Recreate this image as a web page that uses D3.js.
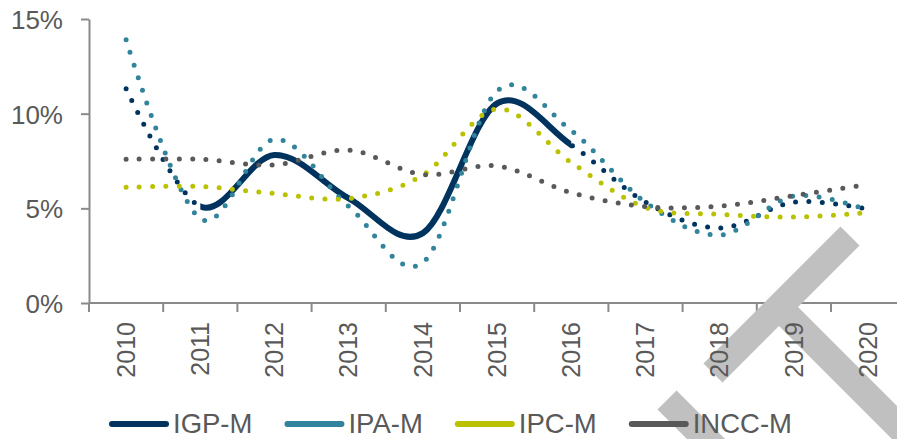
<!DOCTYPE html>
<html>
<head>
<meta charset="utf-8">
<script src="https://cdn.jsdelivr.net/npm/d3@7"></script>
<style>
  html, body { margin: 0; padding: 0; background: #ffffff; }
  svg { display: block; font-family: "Liberation Sans", Arial, sans-serif; }
</style>
</head>
<body>
<svg id="chart" width="897" height="439"></svg>
<script>
// Annual inflation indices (%), 2010-2020
const years = ["2010", "2011", "2012", "2013", "2014", "2015", "2016", "2017", "2018", "2019", "2020"];
const igpM  = [11.32, 5.10, 7.82, 5.53, 3.69, 10.54, 8.35, 5.33, 3.96, 5.33, 4.95];
const ipaM  = [13.90, 4.45, 8.65, 5.10, 2.13, 11.20, 9.10, 5.32, 3.59, 5.65, 4.90];
const ipcM  = [6.11, 6.15, 5.78, 5.52, 6.76, 10.25, 7.42, 5.05, 4.69, 4.54, 4.78];
const inccM = [7.59, 7.59, 7.29, 8.08, 6.78, 7.24, 5.83, 5.09, 5.12, 5.67, 6.27];
const seriesNames = ["IGP-M", "IPA-M", "IPC-M", "INCC-M"];
const yTicks = [0, 5, 10, 15];
// IGP-M is drawn solid over this span of years, dotted elsewhere
const solidSpan = ["2011", "2016"];

const colors = {
  "IGP-M": "#00345f",
  "IPA-M": "#31849b",
  "IPC-M": "#bac200",
  "INCC-M": "#58595b"
};
const textColor = "#595959";
const axisColor = "#8a8a8a";

const svg = d3.select("#chart");

const x = d3.scaleBand().domain(years).range([89, 89 + 74.2 * years.length]).padding(0);
const y = d3.scaleLinear().domain([0, 15]).range([303, 19]);
const cx = d => x(d) + x.bandwidth() / 2;

const series = [
  { name: "IGP-M", values: igpM },
  { name: "IPA-M", values: ipaM },
  { name: "IPC-M", values: ipcM },
  { name: "INCC-M", values: inccM }
];

// ---- Axis lines and ticks ----
const yAxis = d3.axisLeft(y)
  .tickValues(yTicks)
  .tickFormat(d => d + "%")
  .tickSize(8)
  .tickSizeOuter(0)
  .tickPadding(18);

const gy = svg.append("g").attr("transform", "translate(89,0)").call(yAxis);
gy.select(".domain").attr("stroke", axisColor).attr("stroke-width", 2);
gy.selectAll(".tick line").attr("stroke", axisColor).attr("stroke-width", 2);
gy.selectAll(".tick text")
  .attr("fill", textColor)
  .style("font-size", "26px")
  .attr("dy", "0.36em");

const gx = svg.append("g");
gx.append("line")
  .attr("x1", x.range()[0]).attr("x2", x.range()[1])
  .attr("y1", y(0)).attr("y2", y(0))
  .attr("stroke", axisColor).attr("stroke-width", 2);
const boundaries = years.map(d => x(d)).concat([x.range()[1]]);
gx.selectAll("line.tick")
  .data(boundaries)
  .join("line")
  .attr("class", "tick")
  .attr("x1", d => d).attr("x2", d => d)
  .attr("y1", y(0)).attr("y2", y(0) + 9)
  .attr("stroke", axisColor).attr("stroke-width", 2);

// ---- Grey diagonal bands in the lower right ----
const bands = svg.append("g").attr("stroke", "#c0c0c0").attr("stroke-width", 27).attr("fill", "none");
bands.append("line").attr("x1", 850).attr("y1", 236).attr("x2", 713).attr("y2", 373);
bands.append("line").attr("x1", 779).attr("y1", 307).attr("x2", 950).attr("y2", 478);
bands.append("line").attr("x1", 667).attr("y1", 400).attr("x2", 760).attr("y2", 493);

// ---- Category labels ----
svg.append("g")
  .selectAll("text")
  .data(years)
  .join("text")
  .attr("transform", d => `translate(${cx(d)},322) rotate(-90)`)
  .attr("text-anchor", "end")
  .attr("dy", "0.35em")
  .attr("fill", textColor)
  .style("font-size", "25px")
  .text(d => d);

// ---- Lines ----
const line = d3.line()
  .x((d, i) => cx(years[i]))
  .y(d => y(d))
  .curve(d3.curveCardinal.tension(0));

svg.append("clipPath").attr("id", "solid-span")
  .append("rect")
  .attr("x", cx(solidSpan[0]))
  .attr("width", cx(solidSpan[1]) - cx(solidSpan[0]))
  .attr("y", 0).attr("height", 439);

const plot = svg.append("g");
series.forEach(s => {
  plot.append("path")
    .attr("d", line(s.values))
    .attr("fill", "none")
    .attr("stroke", colors[s.name])
    .attr("stroke-width", 5)
    .attr("stroke-linecap", "round")
    .attr("stroke-dasharray", "0 13.3");
  if (s.name === "IGP-M") {
    plot.append("path")
      .attr("d", line(s.values))
      .attr("fill", "none")
      .attr("stroke", colors[s.name])
      .attr("stroke-width", 6)
      .attr("clip-path", "url(#solid-span)");
  }
});

// ---- Legend ----
const legend = svg.append("g");
let lx = 109;
seriesNames.forEach(name => {
  legend.append("line")
    .attr("x1", lx + 3).attr("x2", lx + 57)
    .attr("y1", 424).attr("y2", 424)
    .attr("stroke", colors[name])
    .attr("stroke-width", 6)
    .attr("stroke-linecap", "round");
  const t = legend.append("text")
    .attr("x", lx + 64).attr("y", 433)
    .attr("fill", textColor)
    .style("font-size", "27.5px")
    .text(name);
  lx += 64 + t.node().getComputedTextLength() + 32;
});
</script>
</body>
</html>
